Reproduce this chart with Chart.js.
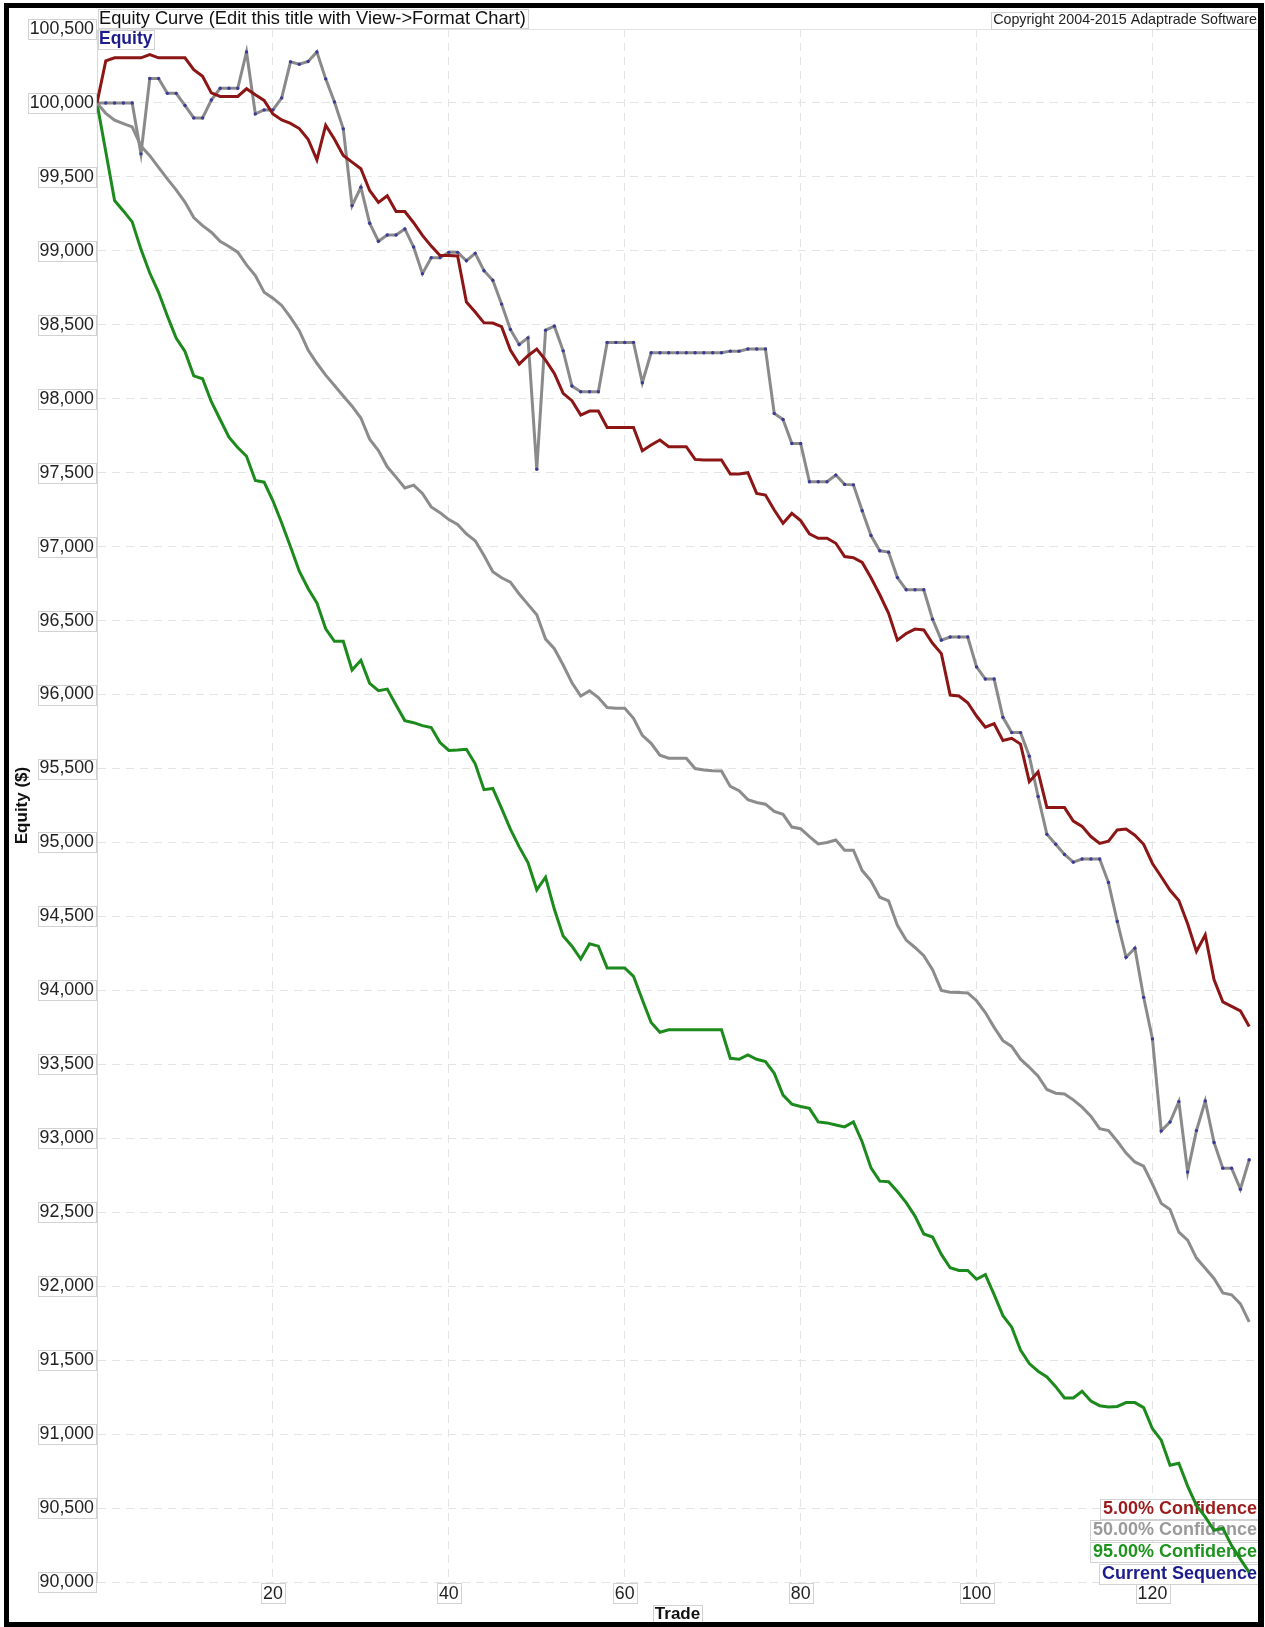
<!DOCTYPE html>
<html>
<head>
<meta charset="utf-8">
<title>Equity Curve</title>
<script src="https://cdn.jsdelivr.net/npm/chart.js@4.4.1/dist/chart.umd.min.js"></script>
<style>
  html, body { margin: 0; padding: 0; background: #fff; }
  #wrap { position: relative; width: 1265px; height: 1627px; }
</style>
</head>
<body>
<div id="wrap"><canvas id="equityChart" width="1265" height="1627"></canvas></div>
<script>
// Trade numbers (x axis)
const trades = Array.from({ length: 132 }, (_, i) => i);

// Tick labels
const xTicks = [20, 40, 60, 80, 100, 120];
const yTicks = [90000, 90500, 91000, 91500, 92000, 92500, 93000, 93500, 94000, 94500, 95000,
                95500, 96000, 96500, 97000, 97500, 98000, 98500, 99000, 99500, 100000, 100500];

// Series names
const seriesNames = ['5.00% Confidence', '50.00% Confidence', '95.00% Confidence', 'Current Sequence'];

// Equity values
const confidence5 = [
  100000, 100285, 100305, 100305, 100305, 100305, 100327, 100305, 100305, 100305,
  100305, 100225, 100180, 100068, 100044, 100044, 100044, 100096, 100055, 100017,
  99925, 99885, 99862, 99827, 99755, 99615, 99849, 99755, 99645, 99600,
  99555, 99408, 99328, 99372, 99266, 99266, 99190, 99105, 99032, 98968,
  98968, 98965, 98654, 98587, 98513, 98512, 98487, 98329, 98234, 98291,
  98336, 98261, 98171, 98036, 97987, 97890, 97917, 97917, 97806, 97806,
  97806, 97806, 97649, 97687, 97721, 97676, 97676, 97676, 97590, 97586,
  97586, 97586, 97491, 97491, 97500, 97360, 97349, 97248, 97158, 97225,
  97176, 97086, 97057, 97057, 97023, 96933, 96925, 96893, 96790, 96675,
  96549, 96368, 96413, 96443, 96437, 96347, 96277, 95997, 95990, 95945,
  95855, 95779, 95803, 95689, 95704, 95665, 95411, 95477, 95236, 95236,
  95236, 95145, 95109, 95040, 94994, 95009, 95085, 95091, 95049, 94988,
  94858, 94768, 94677, 94608, 94451, 94264, 94375, 94073, 93922, 93892,
  93862, 93756
];
const confidence50 = [
  100000, 99930, 99883, 99860, 99838, 99708, 99644, 99565, 99487, 99412,
  99330, 99225, 99170, 99126, 99065, 99030, 98991, 98905, 98833, 98720,
  98680, 98631, 98550, 98460, 98330, 98240, 98160, 98090, 98019, 97950,
  97870, 97727, 97650, 97540, 97470, 97397, 97416, 97360, 97269, 97230,
  97183, 97150, 97086, 97040, 96940, 96830, 96790, 96760, 96680, 96610,
  96540, 96375, 96310, 96200, 96080, 95990, 96025, 95980, 95912, 95907,
  95907, 95840, 95724, 95670, 95590, 95570, 95569, 95569, 95500, 95490,
  95485, 95483, 95379, 95350, 95290, 95270, 95259, 95210, 95190, 95104,
  95093, 95040, 94990, 95000, 95017, 94948, 94948, 94810, 94740, 94630,
  94605, 94440, 94340, 94290, 94235, 94140, 94000, 93988, 93985, 93983,
  93930, 93850, 93750, 93660, 93621, 93535, 93480, 93420, 93330, 93305,
  93300, 93260, 93210, 93150, 93065, 93052, 92980, 92900, 92840, 92811,
  92690, 92560, 92518, 92365, 92311, 92190, 92121, 92052, 91955, 91942,
  91880, 91759
];
const confidence95 = [
  100000, 99670, 99340, 99270, 99196, 99010, 98850, 98720, 98560, 98410,
  98320, 98155, 98135, 97980, 97860, 97740, 97670, 97611, 97448, 97436,
  97310, 97160, 97000, 96834, 96717, 96620, 96445, 96360, 96360, 96166,
  96232, 96076, 96026, 96037, 95930, 95824, 95810, 95790, 95777, 95676,
  95622, 95625, 95630, 95532, 95357, 95365, 95230, 95090, 94970, 94864,
  94680, 94765, 94548, 94367, 94299, 94212, 94315, 94299, 94152, 94152,
  94152, 94095, 93937, 93783, 93717, 93733, 93733, 93733, 93733, 93733,
  93733, 93733, 93541, 93534, 93564, 93534, 93518, 93439, 93292, 93231,
  93215, 93202, 93111, 93104, 93090, 93077, 93111, 92975, 92800, 92710,
  92706, 92640, 92565, 92474, 92353, 92332, 92215, 92125, 92106, 92106,
  92047, 92078, 91943, 91801, 91723, 91568, 91477, 91425, 91386, 91321,
  91244, 91244, 91290, 91223, 91192, 91184, 91187, 91213, 91213, 91179,
  91036, 90959, 90790, 90803, 90648, 90518, 90440, 90350, 90363, 90246,
  90155, 90065
];
const currentSequence = [
  100000, 100000, 100000, 100000, 100000, 99656, 100165, 100165, 100065, 100065,
  99983, 99899, 99899, 100020, 100099, 100099, 100099, 100345, 99926, 99953,
  99953, 100034, 100278, 100262, 100280, 100345, 100163, 100006, 99825, 99306,
  99430, 99187, 99065, 99107, 99107, 99148, 99026, 98846, 98954, 98954,
  98990, 98990, 98933, 98983, 98866, 98801, 98640, 98469, 98367, 98412,
  97523, 98464, 98491, 98324, 98086, 98047, 98047, 98047, 98381, 98381,
  98381, 98381, 98108, 98311, 98311, 98311, 98311, 98311, 98311, 98311,
  98311, 98311, 98322, 98322, 98336, 98336, 98336, 97901, 97860, 97698,
  97698, 97439, 97439, 97439, 97484, 97421, 97418, 97243, 97075, 96972,
  96963, 96791, 96709, 96709, 96709, 96510, 96368, 96389, 96389, 96389,
  96187, 96105, 96105, 95846, 95743, 95743, 95583, 95311, 95055, 94988,
  94919, 94867, 94888, 94888, 94888, 94729, 94466, 94224, 94285, 93953,
  93672, 93050, 93110, 93248, 92772, 93052, 93252, 92972, 92798, 92798,
  92656, 92855
];

const FONT = "'Liberation Sans', Arial, Helvetica, sans-serif";
Chart.defaults.font.family = FONT;

// White box with a thin grey border, used behind labels
function labelBox(ctx, x, y, w, h) {
    ctx.fillStyle = '#ffffff';
    ctx.fillRect(x, y, w, h);
    ctx.strokeStyle = '#d2d2d2';
    ctx.lineWidth = 1;
    ctx.strokeRect(Math.round(x) + 0.5, Math.round(y) + 0.5, Math.round(w), Math.round(h));
}

// Boxes behind tick labels, legend, titles and the outer frame
const chromePlugin = {
    id: 'chrome',
    beforeDraw(chart) {
        const { ctx, scales: { x, y }, chartArea } = chart;
        ctx.save();
        ctx.fillStyle = '#ffffff';
        ctx.fillRect(0, 0, chart.width, chart.height);

        ctx.font = '17.8px ' + FONT;
        y.ticks.forEach(t => {
            const w = ctx.measureText(t.label).width;
            const py = y.getPixelForValue(t.value);
            labelBox(ctx, y.right - 3 - w - 2, py - 10, w + 4, 20);
        });
        x.ticks.forEach(t => {
            const w = ctx.measureText(t.label).width;
            const px = x.getPixelForValue(t.value);
            labelBox(ctx, px - w / 2 - 2, chartArea.bottom + 1, w + 4, 20);
        });

        // axis title box for "Trade"
        ctx.font = 'bold 17px ' + FONT;
        const tw = ctx.measureText(x.options.title.text).width;
        labelBox(ctx, (chartArea.left + chartArea.right) / 2 - tw / 2 - 2, 1605, tw + 4, 20);
        ctx.restore();
    },
    beforeDatasetsDraw(chart) {
        const { ctx, chartArea } = chart;
        ctx.save();
        // solid line along the top of the plot
        ctx.strokeStyle = '#e2e2e2';
        ctx.lineWidth = 1;
        ctx.beginPath();
        ctx.moveTo(chartArea.left, Math.round(chartArea.top) + 0.5);
        ctx.lineTo(chartArea.right, Math.round(chartArea.top) + 0.5);
        ctx.stroke();

        // legend, bottom right, under the lines
        const sets = chart.data.datasets;
        ctx.font = 'bold 18px ' + FONT;
        ctx.textAlign = 'right';
        ctx.textBaseline = 'middle';
        sets.forEach((ds, i) => {
            const yy = chartArea.bottom - 8 - (sets.length - 1 - i) * 21.8;
            const w = ctx.measureText(ds.label).width;
            labelBox(ctx, chartArea.right - 1 - w - 3, yy - 10, w + 6, 20);
            ctx.fillStyle = ds.legendColor;
            ctx.fillText(ds.label, chartArea.right - 1, yy);
        });
        ctx.restore();
    },
    afterDraw(chart) {
        const { ctx, chartArea } = chart;
        ctx.save();
        ctx.textBaseline = 'middle';
        ctx.textAlign = 'left';

        // chart title
        const title = 'Equity Curve (Edit this title with View->Format Chart)';
        ctx.font = '18.3px ' + FONT;
        let w = ctx.measureText(title).width;
        labelBox(ctx, chartArea.left + 1, 9, w + 3, 19);
        ctx.fillStyle = '#111111';
        ctx.fillText(title, chartArea.left + 2, 18.5);

        // "Equity" caption
        ctx.font = 'bold 17.5px ' + FONT;
        w = ctx.measureText('Equity').width;
        labelBox(ctx, chartArea.left + 1, 30, w + 3, 19);
        ctx.fillStyle = '#1c1c8c';
        ctx.fillText('Equity', chartArea.left + 2, 39.5);

        // copyright
        const copy = 'Copyright 2004-2015 Adaptrade Software';
        ctx.font = '14.3px ' + FONT;
        w = ctx.measureText(copy).width;
        labelBox(ctx, 1257 - w - 2, 12, w + 4, 17);
        ctx.fillStyle = '#222222';
        ctx.textAlign = 'right';
        ctx.fillText(copy, 1257, 20.5);

        // outer black frame
        ctx.fillStyle = '#000000';
        ctx.fillRect(4, 3, 5, 1624);
        ctx.fillRect(4, 3, 1260, 5);
        ctx.fillRect(1258, 3, 6, 1624);
        ctx.fillRect(4, 1622, 1260, 5);
        ctx.restore();
    }
};

// Builds one line dataset
function lineSet(label, values, color, legendColor, dots) {
    return {
        label: label,
        data: values,
        borderColor: color,
        legendColor: legendColor,
        borderWidth: 3,
        tension: 0,
        pointRadius: dots ? 1.7 : 0,
        pointBorderWidth: 0,
        pointBackgroundColor: '#3a3a98',
        pointHoverRadius: 0
    };
}

function initChart() {
    const canvas = document.getElementById('equityChart');
    new Chart(canvas, {
        type: 'line',
        data: {
            labels: trades,
            datasets: [
                lineSet(seriesNames[0], confidence5, '#8c1515', '#9a1c1c', false),
                lineSet(seriesNames[1], confidence50, '#8c8c8c', '#9a9a9a', false),
                lineSet(seriesNames[2], confidence95, '#1d8a1d', '#1e931e', false),
                lineSet(seriesNames[3], currentSequence, '#8a8a8a', '#1c1c8c', true)
            ]
        },
        options: {
            responsive: false,
            animation: false,
            devicePixelRatio: 1,
            locale: 'en-US',
            layout: { padding: { left: 0, right: 7, top: 29, bottom: 0 } },
            plugins: {
                legend: { display: false },
                tooltip: { enabled: false }
            },
            scales: {
                x: {
                    type: 'linear',
                    min: 0,
                    max: 132,
                    afterBuildTicks: scale => { scale.ticks = xTicks.map(v => ({ value: v })); },
                    afterFit: scale => { scale.height = 45; },
                    ticks: {
                        autoSkip: false,
                        maxRotation: 0,
                        padding: 1,
                        color: '#222222',
                        font: { size: 17.8 },
                        callback: v => String(v)
                    },
                    grid: { color: '#e4e4e4', lineWidth: 1, drawTicks: false },
                    border: { display: false, dash: [8, 6] },
                    title: {
                        display: true,
                        text: 'Trade',
                        color: '#111111',
                        font: { size: 17, weight: 'bold' },
                        padding: { top: 0, bottom: 2 }
                    }
                },
                y: {
                    type: 'linear',
                    min: 90000,
                    max: 100500,
                    afterBuildTicks: scale => { scale.ticks = yTicks.map(v => ({ value: v })); },
                    afterFit: scale => { scale.width = 97; },
                    ticks: {
                        autoSkip: false,
                        padding: 3,
                        color: '#222222',
                        font: { size: 17.8 },
                        callback: v => Number(v).toLocaleString('en-US')
                    },
                    grid: { color: '#e4e4e4', lineWidth: 1, drawTicks: false },
                    border: { display: true, color: '#d8d8d8', width: 1, dash: [8, 6] },
                    title: {
                        display: true,
                        text: 'Equity ($)',
                        color: '#111111',
                        font: { size: 17, weight: 'bold' },
                        padding: { top: 12, bottom: 0 }
                    }
                }
            }
        },
        plugins: [chromePlugin]
    });
}

document.addEventListener('DOMContentLoaded', initChart);
</script>
</body>
</html>
